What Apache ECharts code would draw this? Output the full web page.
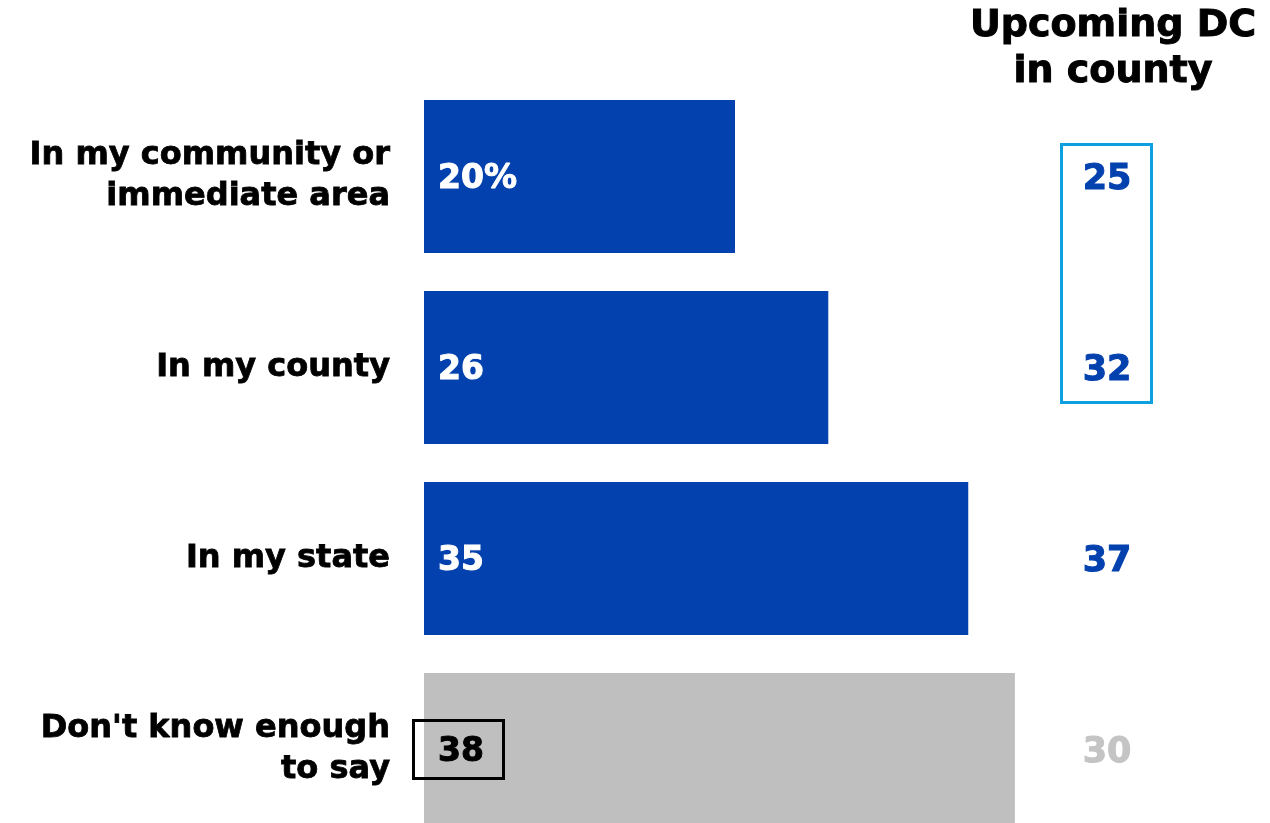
<!DOCTYPE html>
<html><head><meta charset="utf-8">
<script src="https://cdn.jsdelivr.net/npm/echarts@6/dist/echarts.min.js"></script>
<style>html,body{margin:0;padding:0;background:#fff}#c{width:1270px;height:823px}</style>
</head><body><div id="c"></div>
<script>
const categories = ["In my community or\nimmediate area", "In my county", "In my state", "Don't know enough\nto say"];
const allValues = [20, 26, 35, 38];
const dcValues = [25, 32, 37, 30];
const barColors = ["#0341ae", "#0341ae", "#0341ae", "#bfbfbf"];
const dcColors = ["#0341ae", "#0341ae", "#0341ae", "#c4c4c4"];
const labelColors = ["#ffffff", "#ffffff", "#ffffff", "#000000"];
const FONT = "DejaVu Sans";

const chart = echarts.init(document.getElementById('c'), null, {renderer: 'canvas'});
const option = {
  animation: false,
  textStyle: {fontFamily: FONT},
  title: {
    text: "Upcoming DC\nin county",
    left: 1108, top: -2, textAlign: 'center',
    textStyle: {fontFamily: FONT, fontWeight: 'bold', fontSize: 38, lineHeight: 46, color: '#000',
      textBorderColor: '#000', textBorderWidth: 1}
  },
  grid: [
    {left: 424, top: 81, width: 777.5, height: 764, containLabel: false, outerBoundsMode: 'none'},
    {left: 1060, top: 81, width: 94, height: 764, containLabel: false, outerBoundsMode: 'none'}
  ],
  xAxis: [
    {gridIndex: 0, type: 'value', min: 0, max: 50, show: false},
    {gridIndex: 1, type: 'value', min: 0, max: 1, show: false}
  ],
  yAxis: [
    {gridIndex: 0, type: 'category', data: categories, inverse: true,
     axisLine: {show: false}, axisTick: {show: false}, splitLine: {show: false},
     axisLabel: {margin: 34, align: 'right', fontFamily: FONT, fontWeight: 'bold', fontSize: 32, lineHeight: 41,
       color: '#000', textBorderColor: '#000', textBorderWidth: 0.8, padding: [0, 0, 0, 0]}},
    {gridIndex: 1, type: 'category', data: categories, inverse: true, show: false}
  ],
  series: [
    {type: 'bar', xAxisIndex: 0, yAxisIndex: 0, barWidth: 153,
     data: allValues.map((v, i) => ({value: v, itemStyle: {color: barColors[i]},
       label: {color: labelColors[i], textBorderColor: labelColors[i]}})),
     label: {show: true, position: 'insideLeft', distance: 14, offset: [0, 3],
       fontFamily: FONT, fontWeight: 'bold', fontSize: 33, textBorderWidth: 1,
       formatter: p => p.dataIndex === 0 ? p.value + '%' : String(p.value)}},
    {type: 'scatter', xAxisIndex: 1, yAxisIndex: 1, symbolSize: 1, itemStyle: {opacity: 1, color: 'rgba(0,0,0,0)'},
     data: dcValues.map((v, i) => ({value: [0.5, i],
       label: {color: dcColors[i], textBorderColor: dcColors[i]}})),
     label: {show: true, position: 'inside', offset: [0, 3], fontFamily: FONT, fontWeight: 'bold', fontSize: 35,
       textBorderWidth: 1,
       formatter: p => String(dcValues[p.dataIndex])}}
  ]
};
chart.setOption(option);

// Annotation boxes positioned from the axes
const y0 = chart.convertToPixel({yAxisIndex: 1}, 0);
const y1 = chart.convertToPixel({yAxisIndex: 1}, 1);
const y3 = chart.convertToPixel({yAxisIndex: 0}, 3);
const bx = chart.convertToPixel({xAxisIndex: 0}, 0);
chart.setOption({
  graphic: [
    {type: 'rect', z: 100, shape: {x: 1061.5, y: y0 - 32, width: 90, height: (y1 - y0) + 67},
     style: {fill: 'none', stroke: '#0da0e0', lineWidth: 3}},
    {type: 'rect', z: 100, shape: {x: bx - 10.5, y: y3 - 29, width: 90, height: 58},
     style: {fill: 'none', stroke: '#000', lineWidth: 3}}
  ]
});
</script></body></html>
